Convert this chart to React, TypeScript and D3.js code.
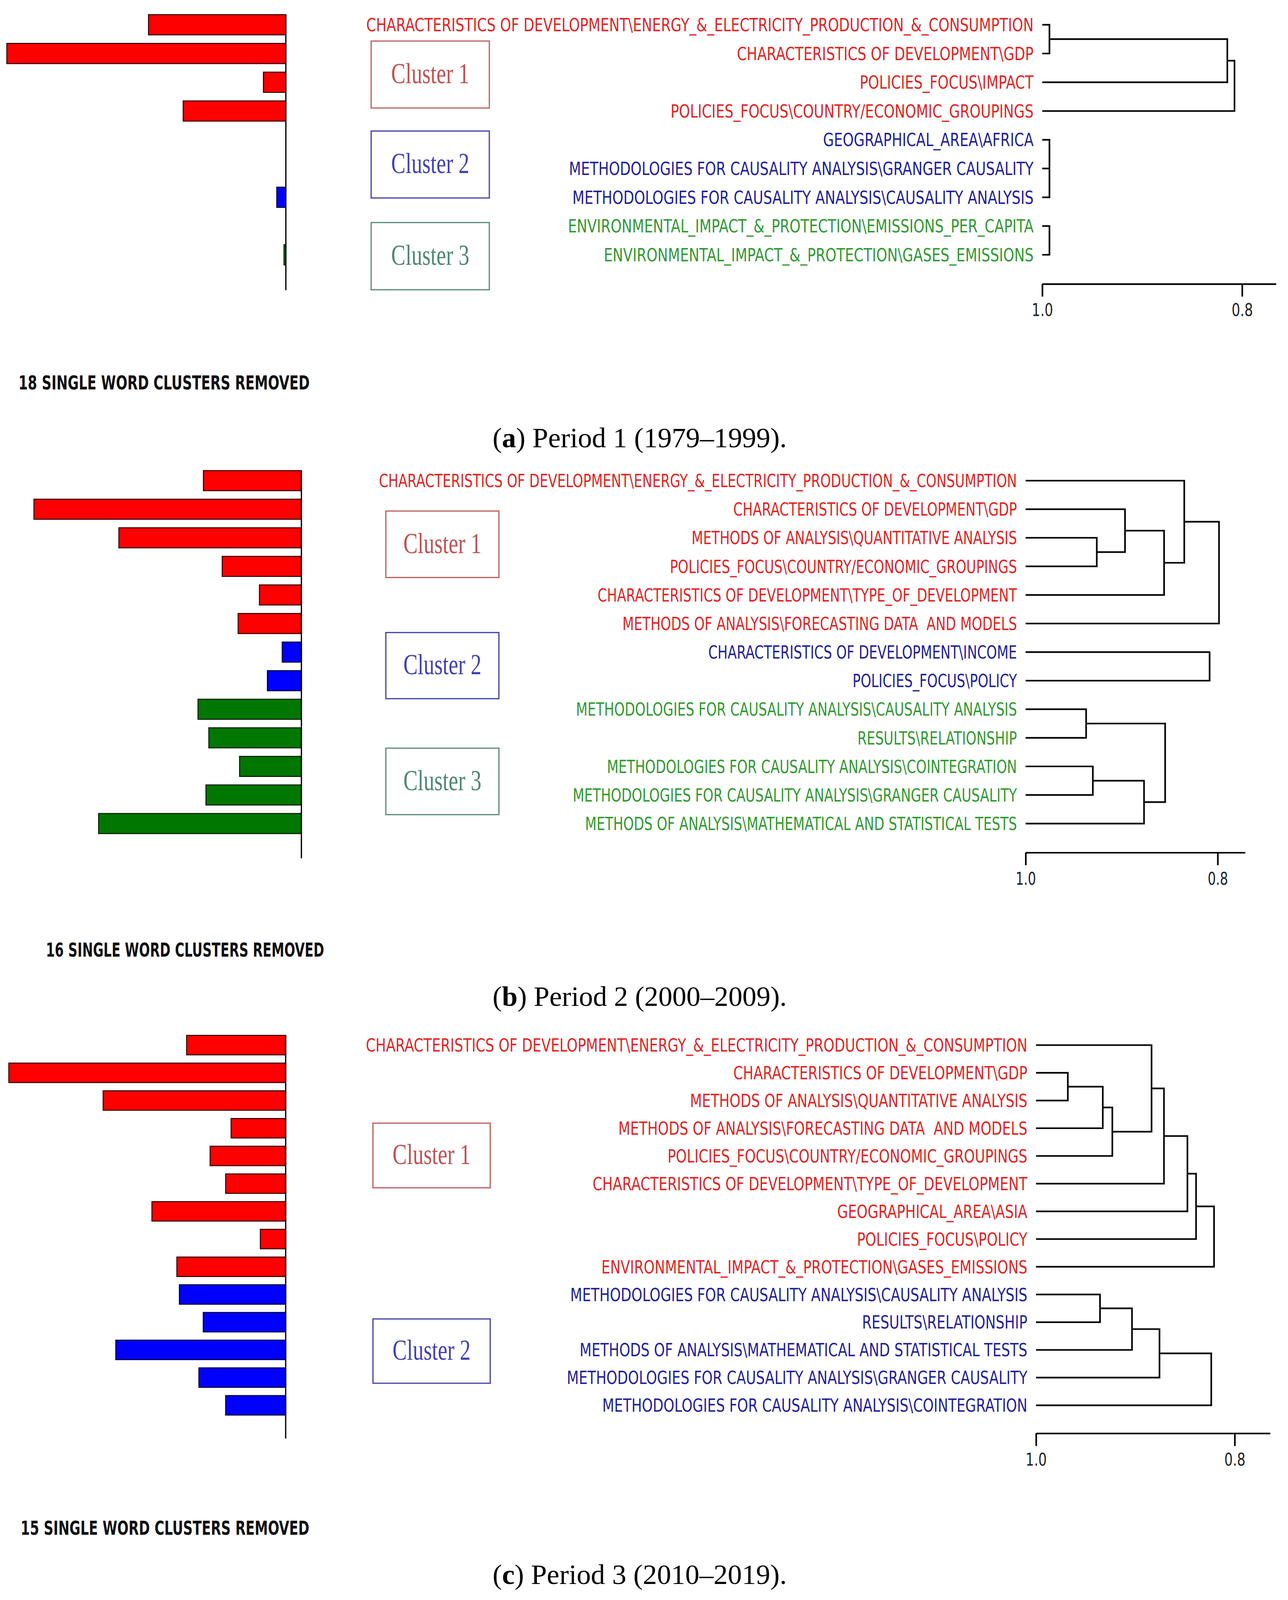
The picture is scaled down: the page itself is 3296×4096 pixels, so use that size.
import React, { useEffect, useRef } from 'react';
import * as d3 from 'd3';

type Tree = number | { h: number; c: Tree[] };

// ---- Period 1 (1979–1999) ----
const labelsA = [
  'CHARACTERISTICS OF DEVELOPMENT\\ENERGY_&_ELECTRICITY_PRODUCTION_&_CONSUMPTION',
  'CHARACTERISTICS OF DEVELOPMENT\\GDP',
  'POLICIES_FOCUS\\IMPACT',
  'POLICIES_FOCUS\\COUNTRY/ECONOMIC_GROUPINGS',
  'GEOGRAPHICAL_AREA\\AFRICA',
  'METHODOLOGIES FOR CAUSALITY ANALYSIS\\GRANGER CAUSALITY',
  'METHODOLOGIES FOR CAUSALITY ANALYSIS\\CAUSALITY ANALYSIS',
  'ENVIRONMENTAL_IMPACT_&_PROTECTION\\EMISSIONS_PER_CAPITA',
  'ENVIRONMENTAL_IMPACT_&_PROTECTION\\GASES_EMISSIONS',
];
const clustersA = [0, 0, 0, 0, 1, 1, 1, 2, 2];
const barsA = [38.0, 77.2, 6.2, 28.4, 0, 0, 2.5, 0, 0.5];
const treesA: Tree[] = [
  { h: 0.8076, c: [{ h: 0.8148, c: [{ h: 0.9928, c: [0, 1] }, 2] }, 3] },
  { h: 0.9928, c: [4, 5, 6] },
  { h: 0.9928, c: [7, 8] },
];

// ---- Period 2 (2000–2009) ----
const labelsB = [
  'CHARACTERISTICS OF DEVELOPMENT\\ENERGY_&_ELECTRICITY_PRODUCTION_&_CONSUMPTION',
  'CHARACTERISTICS OF DEVELOPMENT\\GDP',
  'METHODS OF ANALYSIS\\QUANTITATIVE ANALYSIS',
  'POLICIES_FOCUS\\COUNTRY/ECONOMIC_GROUPINGS',
  'CHARACTERISTICS OF DEVELOPMENT\\TYPE_OF_DEVELOPMENT',
  'METHODS OF ANALYSIS\\FORECASTING DATA  AND MODELS',
  'CHARACTERISTICS OF DEVELOPMENT\\INCOME',
  'POLICIES_FOCUS\\POLICY',
  'METHODOLOGIES FOR CAUSALITY ANALYSIS\\CAUSALITY ANALYSIS',
  'RESULTS\\RELATIONSHIP',
  'METHODOLOGIES FOR CAUSALITY ANALYSIS\\COINTEGRATION',
  'METHODOLOGIES FOR CAUSALITY ANALYSIS\\GRANGER CAUSALITY',
  'METHODS OF ANALYSIS\\MATHEMATICAL AND STATISTICAL TESTS',
];
const clustersB = [0, 0, 0, 0, 0, 0, 1, 1, 2, 2, 2, 2, 2];
const barsB = [27.1, 74.0, 50.5, 21.9, 11.6, 17.5, 5.3, 9.4, 28.6, 25.6, 17.1, 26.4, 56.1];
const treesB: Tree[] = [
  {
    h: 0.7986,
    c: [{ h: 0.8348, c: [0, { h: 0.8558, c: [{ h: 0.8965, c: [1, { h: 0.9259, c: [2, 3] }] }, 4] }] }, 5],
  },
  { h: 0.8084, c: [6, 7] },
  { h: 0.8547, c: [{ h: 0.937, c: [8, 9] }, { h: 0.8767, c: [{ h: 0.930, c: [10, 11] }, 12] }] },
];

// ---- Period 3 (2010–2019) ----
const labelsC = [
  'CHARACTERISTICS OF DEVELOPMENT\\ENERGY_&_ELECTRICITY_PRODUCTION_&_CONSUMPTION',
  'CHARACTERISTICS OF DEVELOPMENT\\GDP',
  'METHODS OF ANALYSIS\\QUANTITATIVE ANALYSIS',
  'METHODS OF ANALYSIS\\FORECASTING DATA  AND MODELS',
  'POLICIES_FOCUS\\COUNTRY/ECONOMIC_GROUPINGS',
  'CHARACTERISTICS OF DEVELOPMENT\\TYPE_OF_DEVELOPMENT',
  'GEOGRAPHICAL_AREA\\ASIA',
  'POLICIES_FOCUS\\POLICY',
  'ENVIRONMENTAL_IMPACT_&_PROTECTION\\GASES_EMISSIONS',
  'METHODOLOGIES FOR CAUSALITY ANALYSIS\\CAUSALITY ANALYSIS',
  'RESULTS\\RELATIONSHIP',
  'METHODS OF ANALYSIS\\MATHEMATICAL AND STATISTICAL TESTS',
  'METHODOLOGIES FOR CAUSALITY ANALYSIS\\GRANGER CAUSALITY',
  'METHODOLOGIES FOR CAUSALITY ANALYSIS\\COINTEGRATION',
];
const clustersC = [0, 0, 0, 0, 0, 0, 0, 0, 0, 1, 1, 1, 1, 1];
const barsC = [27.4, 76.6, 50.5, 15.1, 20.9, 16.6, 37.0, 7.0, 30.1, 29.4, 22.8, 47.0, 24.0, 16.6];
const treesC: Tree[] = [
  {
    h: 0.8208,
    c: [
      {
        h: 0.8389,
        c: [
          {
            h: 0.8476,
            c: [
              {
                h: 0.8712,
                c: [{ h: 0.8837, c: [0, { h: 0.9232, c: [{ h: 0.9328, c: [{ h: 0.968, c: [1, 2] }, 3] }, 4] }] }, 5],
              },
              6,
            ],
          },
          7,
        ],
      },
      8,
    ],
  },
  { h: 0.8236, c: [{ h: 0.8757, c: [{ h: 0.9034, c: [{ h: 0.9356, c: [9, 10] }, 11] }, 12] }, 13] },
];

const removedCounts = [18, 16, 15];
const captionTags = ['a', 'b', 'c'];
const captionPeriods = ['Period 1 (1979–1999)', 'Period 2 (2000–2009)', 'Period 3 (2010–2019)'];
const clusterNames = ['Cluster 1', 'Cluster 2', 'Cluster 3'];
const tickValues = [1.0, 0.8];

// colours per cluster
const LABEL_COLOR = ['#e42222', '#20209c', '#2f9a2f'];
const BAR_FILL = ['#ff0000', '#0000ff', '#007700'];
const BAR_EDGE = ['#3d0000', '#000044', '#002200'];
const BOX_COLOR = ['#c46464', '#4a4aac', '#5f9080'];
const BOX_TEXT = ['#c25050', '#4040b8', '#4d8770'];

const SANS = '"DejaVu Sans", Verdana, sans-serif';
const SERIF = '"Liberation Serif", "Times New Roman", serif';

// panel geometry, in reference pixels
const layout = [
  {
    rowY0: 68.5, pitch: 79.6, barAxisX: 791, barAxisBottom: 803,
    x1: 2884, x8: 3437, axisEnd: 0.766, axisY: 786, labelW: 1847,
    boxX: [1027, 1354], boxY: [[113.6, 299], [362.7, 548], [616, 802]],
    removedX: 51, removedY: 1078, removedW: 806, captionY: 1238,
  },
  {
    rowY0: 1330.5, pitch: 79.1, barAxisX: 834, barAxisBottom: 2376,
    x1: 2838, x8: 3369.4, axisEnd: 0.7714, axisY: 2360, labelW: 1766,
    boxX: [1067.6, 1380.5], boxY: [[1414.6, 1598.6], [1751, 1934], [2071, 2255]],
    removedX: 127, removedY: 2648, removedW: 770, captionY: 2784,
  },
  {
    rowY0: 2893, pitch: 76.7, barAxisX: 790.5, barAxisBottom: 3982,
    x1: 2866.8, x8: 3416.5, axisEnd: 0.7643, axisY: 3967.6, labelW: 1831,
    boxX: [1032, 1356.5], boxY: [[3109, 3288], [3651, 3829]],
    removedX: 57, removedY: 4248, removedW: 799, captionY: 4385,
  },
];

const panels = [
  { labels: labelsA, clusters: clustersA, bars: barsA, trees: treesA },
  { labels: labelsB, clusters: clustersB, bars: barsB, trees: treesB },
  { labels: labelsC, clusters: clustersC, bars: barsC, trees: treesC },
];

function drawPanel(svg: any, d: any, L: any, pi: number) {
  const n = d.labels.length;
  const g = svg.append('g');
  const y = d3.scaleLinear().domain([0, n - 1]).range([L.rowY0, L.rowY0 + (n - 1) * L.pitch]);
  const barH = L.pitch * 0.7;
  const len = d3.scaleLinear().domain([0, 100]).range([0, 1000]);

  // bars
  const bars = d.bars.map((v: number, i: number) => ({ v, i })).filter((b: any) => b.v > 0);
  g.append('g')
    .selectAll('rect')
    .data(bars)
    .join('rect')
    .attr('x', (b: any) => L.barAxisX - len(b.v))
    .attr('y', (b: any) => y(b.i) - barH / 2)
    .attr('width', (b: any) => len(b.v))
    .attr('height', barH)
    .attr('fill', (b: any) => BAR_FILL[d.clusters[b.i]])
    .attr('stroke', (b: any) => BAR_EDGE[d.clusters[b.i]])
    .attr('stroke-width', 3);
  g.append('line')
    .attr('x1', L.barAxisX).attr('x2', L.barAxisX)
    .attr('y1', y(0) - barH / 2).attr('y2', L.barAxisBottom)
    .attr('stroke', '#000').attr('stroke-width', 3.5);

  // cluster boxes
  L.boxY.forEach(([y0, y1]: number[], ci: number) => {
    g.append('rect')
      .attr('x', L.boxX[0]).attr('y', y0)
      .attr('width', L.boxX[1] - L.boxX[0]).attr('height', y1 - y0)
      .attr('fill', 'none').attr('stroke', BOX_COLOR[ci]).attr('stroke-width', 3.5);
    g.append('text')
      .attr('x', (L.boxX[0] + L.boxX[1]) / 2).attr('y', (y0 + y1) / 2 + 24)
      .attr('text-anchor', 'middle')
      .attr('font-family', SERIF).attr('font-size', 80)
      .attr('textLength', 216).attr('lengthAdjust', 'spacingAndGlyphs')
      .attr('fill', BOX_TEXT[ci])
      .text(clusterNames[ci]);
  });

  // labels, condensed to the reference width
  const dx = d3.scaleLinear().domain([1, 0.8]).range([L.x1, L.x8]);
  const labelRight = L.x1 - 24;
  const lab = g.append('g').selectAll('g').data(d.labels).join('g');
  const texts = lab.append('text')
    .attr('text-anchor', 'end')
    .attr('dy', '0.36em')
    .attr('font-family', SANS)
    .attr('font-size', 50)
    .attr('fill', (_: any, i: number) => LABEL_COLOR[d.clusters[i]])
    .style('white-space', 'pre')
    .text((t: string) => t);
  const natural = (texts.node() as SVGTextElement).getComputedTextLength() || 2400;
  const k = L.labelW / natural;
  lab.attr('transform', (_: any, i: number) => `translate(${labelRight},${y(i)}) scale(${k},1)`);

  // dendrogram
  const posX = (t: Tree) => (typeof t === 'number' ? dx(1) : dx(t.h));
  const posY = (t: Tree): number =>
    typeof t === 'number' ? y(t) : (posY(t.c[0]) + posY(t.c[t.c.length - 1])) / 2;
  const links: string[] = [];
  const walk = (t: Tree) => {
    if (typeof t === 'number') return;
    const xn = dx(t.h);
    const first = t.c[0];
    const last = t.c[t.c.length - 1];
    let p = `M${posX(first)},${posY(first)}H${xn}V${posY(last)}H${posX(last)}`;
    t.c.slice(1, -1).forEach((m) => {
      p += `M${posX(m)},${posY(m)}H${xn}`;
    });
    links.push(p);
    t.c.forEach(walk);
  };
  d.trees.forEach(walk);
  g.append('g')
    .selectAll('path')
    .data(links)
    .join('path')
    .attr('d', (s: string) => s)
    .attr('fill', 'none')
    .attr('stroke', '#000')
    .attr('stroke-width', 4.5);

  // similarity axis
  const ax = dx.copy().domain([1, L.axisEnd]).range([dx(1), dx(L.axisEnd)]);
  const axG = g.append('g')
    .attr('transform', `translate(0,${L.axisY})`)
    .call(
      d3.axisBottom(ax)
        .tickValues(tickValues)
        .tickFormat(d3.format('.1f'))
        .tickSize(35)
        .tickSizeOuter(0)
        .tickPadding(20)
    );
  axG.select('.domain').attr('stroke', '#000').attr('stroke-width', 4.5);
  axG.selectAll('.tick line').attr('stroke', '#000').attr('stroke-width', 4.5);
  axG.selectAll('.tick text')
    .attr('font-size', 48)
    .attr('font-family', SANS)
    .attr('fill', '#222')
    .attr('transform', `scale(${k},1)`);

  // removed note
  g.append('text')
    .attr('x', L.removedX).attr('y', L.removedY)
    .attr('font-family', SANS).attr('font-weight', 'bold').attr('font-size', 53)
    .attr('textLength', L.removedW).attr('lengthAdjust', 'spacingAndGlyphs')
    .attr('fill', '#111')
    .text(`${removedCounts[pi]} SINGLE WORD CLUSTERS REMOVED`);

  // caption
  const cap = g.append('text')
    .attr('x', 1770).attr('y', L.captionY)
    .attr('text-anchor', 'middle')
    .attr('font-family', SERIF).attr('font-size', 78)
    .attr('textLength', 814).attr('lengthAdjust', 'spacingAndGlyphs')
    .attr('fill', '#000');
  cap.append('tspan').text('(');
  cap.append('tspan').attr('font-weight', 'bold').text(captionTags[pi]);
  cap.append('tspan').text(`) ${captionPeriods[pi]}.`);
}

export default function App() {
  const ref = useRef<SVGSVGElement>(null);

  useEffect(() => {
    if (!ref.current) return;
    const svg = d3.select(ref.current);
    svg.selectAll('*').remove();
    panels.forEach((p, pi) => drawPanel(svg, p, layout[pi], pi));
  }, []);

  return (
    <svg
      ref={ref}
      width={3296}
      height={4096}
      viewBox="0 0 3564 4429"
      style={{ position: 'absolute', left: 0, top: 0, background: '#fff', display: 'block' }}
    />
  );
}
